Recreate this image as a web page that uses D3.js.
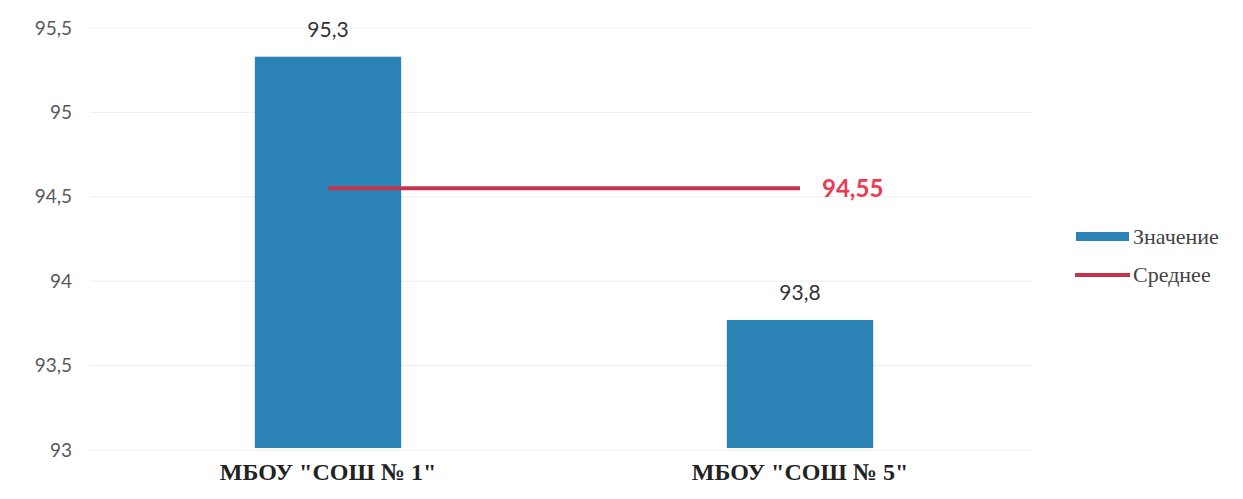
<!DOCTYPE html>
<html><head><meta charset="utf-8">
<script src="https://cdn.jsdelivr.net/npm/d3@7"></script>
<style>body{margin:0;background:#fff}svg{display:block}</style>
</head><body>
<svg id="c" width="1243" height="499"></svg>
<script>
const categories = ['МБОУ "СОШ № 1"', 'МБОУ "СОШ № 5"'];
const values = [95.33, 93.77];
const meanValue = 94.55;
const yTicks = [93, 93.5, 94, 94.5, 95, 95.5];
const legendLabels = ["Значение", "Среднее"];

const svg = d3.select("#c");
const x = d3.scaleBand().domain(categories).range([92, 1036]).paddingInner(0.69).paddingOuter(0.345);
const y = d3.scaleLinear().domain([93, 95.5]).range([450, 28]);
const fmt = v => String(v).replace(".", ",");

// gridlines
svg.append("g").selectAll("line").data(yTicks).join("line")
  .attr("x1", 90).attr("x2", 1032)
  .attr("y1", d => y(d)).attr("y2", d => y(d))
  .attr("stroke", "#ededed").attr("stroke-width", 1);

// y axis
const yAxis = svg.append("g").attr("transform", "translate(72,0)")
  .call(d3.axisLeft(y).tickValues(yTicks).tickSize(0).tickPadding(0).tickFormat(fmt));
yAxis.select(".domain").remove();
yAxis.selectAll("text").attr("fill", "#595959").style("font-family", "Lato, 'Open Sans', sans-serif").style("font-size", "19px");

// bars
svg.append("g").selectAll("rect").data(values).join("rect")
  .attr("x", (d, i) => x(categories[i])).attr("width", x.bandwidth())
  .attr("y", d => y(d)).attr("height", d => y(93) - y(d) - 2)
  .attr("fill", "#2b82b5");

// value labels
svg.append("g").selectAll("text").data(values).join("text")
  .attr("x", (d, i) => x(categories[i]) + x.bandwidth() / 2)
  .attr("y", d => y(d) - 20)
  .attr("text-anchor", "middle")
  .attr("fill", "#333").style("font-family", "Lato, 'Open Sans', sans-serif").style("font-size", "21px")
  .text(d => fmt(d3.format(".1f")(d)));

// mean line
const mx1 = x(categories[0]) + x.bandwidth() / 2, mx2 = x(categories[1]) + x.bandwidth() / 2;
svg.append("line").attr("x1", mx1).attr("x2", mx2)
  .attr("y1", y(meanValue)).attr("y2", y(meanValue))
  .attr("stroke", "#c4344c").attr("stroke-width", 4);
svg.append("text").attr("x", mx2 + 22).attr("y", y(meanValue) + 9)
  .attr("fill", "#ec3a55").style("font-family", "Lato, 'Open Sans', sans-serif").style("font-size", "24px").style("font-weight", "bold")
  .text(fmt(meanValue));

// x axis labels
const xAxis = svg.append("g").attr("transform", "translate(0,452)")
  .call(d3.axisBottom(x).tickSize(0).tickPadding(11));
xAxis.select(".domain").remove();
xAxis.selectAll("text").attr("fill", "#222")
  .style("font-family", "'Liberation Serif', 'Times New Roman', serif").style("font-size", "24px").style("font-weight", "bold");

// legend
const lg = svg.append("g");
lg.append("rect").attr("x", 1076).attr("y", 232).attr("width", 53).attr("height", 9).attr("fill", "#2b82b5");
lg.append("line").attr("x1", 1075).attr("x2", 1130).attr("y1", 275).attr("y2", 275).attr("stroke", "#c4344c").attr("stroke-width", 4);
lg.selectAll("text").data(legendLabels).join("text")
  .attr("x", 1133).attr("y", (d, i) => 244 + i * 38)
  .attr("fill", "#444").style("font-family", "'Liberation Serif', 'Times New Roman', serif").style("font-size", "22px")
  .text(d => d);
</script>
</body></html>
